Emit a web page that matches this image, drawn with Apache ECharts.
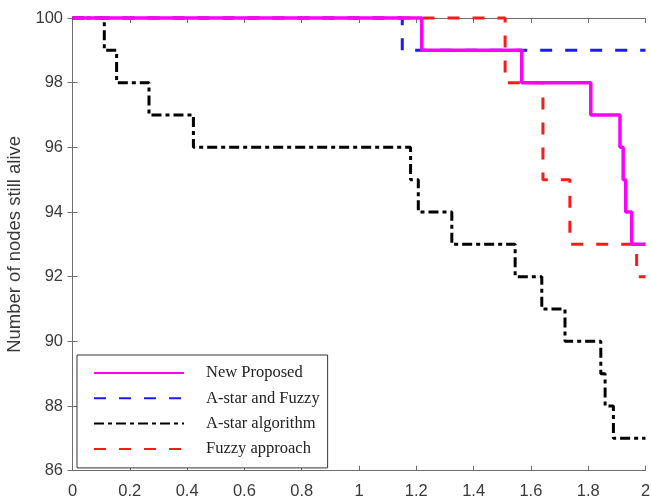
<!DOCTYPE html>
<html>
<head>
<meta charset="utf-8">
<script src="https://cdn.jsdelivr.net/npm/echarts@6/dist/echarts.min.js"></script>
<style>html,body{margin:0;padding:0;background:#fff;}#c{width:651px;height:499px;}</style>
</head>
<body>
<div id="c"></div>
<script>
// Series names (legend order)
const seriesNames = ['New Proposed', 'A-star and Fuzzy', 'A-star algorithm', 'Fuzzy approach'];

// Step data: x where the count changes, and the new count from that x
const newProposedX = [0, 1.219, 1.568, 1.809, 1.911, 1.922, 1.931, 1.952, 2];
const newProposedY = [100, 99, 98, 97, 96, 95, 94, 93, 93];

const astarFuzzyX = [0, 1.151, 2];
const astarFuzzyY = [100, 99, 99];

const astarAlgX = [0, 0.111, 0.154, 0.267, 0.422, 1.18, 1.207, 1.324, 1.545, 1.638, 1.719, 1.844, 1.859, 1.888, 2];
const astarAlgY = [100, 99, 98, 97, 96, 95, 94, 93, 92, 91, 90, 89, 88, 87, 87];

const fuzzyX = [0, 1.51, 1.642, 1.736, 1.969, 2];
const fuzzyY = [100, 98, 95, 93, 92, 92];

const yTicks = [86, 88, 90, 92, 94, 96, 98, 100];
const xTicks = [0, 0.2, 0.4, 0.6, 0.8, 1, 1.2, 1.4, 1.6, 1.8, 2];

function pairs(xs, ys) { return xs.map((x, i) => [x, ys[i]]); }

const chart = echarts.init(document.getElementById('c'), null, {renderer: 'canvas'});
const axisColor = '#6e6e6e';
const labelFont = {fontFamily: 'Liberation Sans, Arial, sans-serif', fontSize: 16.5, color: '#3a3a3a'};

const option = {
  animation: false,
  backgroundColor: '#fff',
  grid: {left: 72.5, right: 5.5, top: 18, bottom: 28.3, containLabel: false, outerBoundsMode: 'none'},
  legend: {
    orient: 'vertical',
    left: 77, top: 355,
    data: seriesNames,
    itemWidth: 90, itemHeight: 14, itemGap: 8.3,
    padding: [9.5, 8, 10.5, 16],
    borderColor: '#333', borderWidth: 1,
    backgroundColor: '#fff',
    itemStyle: {opacity: 0},
    textStyle: {fontFamily: 'Liberation Serif, Times New Roman, serif', fontSize: 16.5, color: '#222', padding: [0, 0, 0, 17]}
  },
  xAxis: [{
    type: 'value', min: 0, max: 2, interval: 0.2,
    axisLine: {show: true, lineStyle: {color: axisColor, width: 1}},
    axisTick: {show: true, inside: true, length: 5, lineStyle: {color: axisColor}},
    axisLabel: Object.assign({margin: 12, formatter: v => String(+v.toFixed(1))}, labelFont),
    splitLine: {show: false}
  }, {
    type: 'value', min: 0, max: 2, interval: 0.2, position: 'top',
    axisLine: {show: true, lineStyle: {color: axisColor, width: 1}},
    axisTick: {show: true, inside: true, length: 5, lineStyle: {color: axisColor}},
    axisLabel: {show: false}, splitLine: {show: false}
  }],
  yAxis: [{
    type: 'value', min: 86, max: 100, interval: 2,
    name: 'Number of nodes still alive', nameLocation: 'middle', nameGap: 43,
    nameTextStyle: {fontFamily: 'Liberation Sans, Arial, sans-serif', fontSize: 18.5, color: '#3a3a3a'},
    axisLine: {show: true, lineStyle: {color: axisColor, width: 1}},
    axisTick: {show: true, inside: true, length: 5, lineStyle: {color: axisColor}},
    axisLabel: Object.assign({margin: 9.5}, labelFont),
    splitLine: {show: false}
  }, {
    type: 'value', min: 86, max: 100, interval: 2, position: 'right',
    axisLine: {show: true, lineStyle: {color: axisColor, width: 1}},
    axisTick: {show: true, inside: true, length: 5, lineStyle: {color: axisColor}},
    axisLabel: {show: false}, splitLine: {show: false}
  }],
  series: [
    {name: seriesNames[0], type: 'line', step: 'end', symbol: 'none', clip: false, z: 10,
     color: '#ff00ff', lineStyle: {color: '#ff00ff', width: 3.5, type: 'solid'},
     data: pairs(newProposedX, newProposedY)},
    {name: seriesNames[1], type: 'line', step: 'end', symbol: 'none', clip: false, z: 4,
     color: '#1a1aff', lineStyle: {color: '#1a1aff', width: 3, type: [12, 13]},
     data: pairs(astarFuzzyX, astarFuzzyY)},
    {name: seriesNames[2], type: 'line', step: 'end', symbol: 'none', clip: false, z: 3,
     color: '#000', lineStyle: {color: '#000', width: 3, type: [10, 4, 4, 4]},
     data: pairs(astarAlgX, astarAlgY)},
    {name: seriesNames[3], type: 'line', step: 'end', symbol: 'none', clip: false, z: 5,
     color: '#ff1a1a', lineStyle: {color: '#ff1a1a', width: 3, type: [12, 13]},
     data: pairs(fuzzyX, fuzzyY)}
  ]
};
chart.setOption(option);
</script>
</body>
</html>
